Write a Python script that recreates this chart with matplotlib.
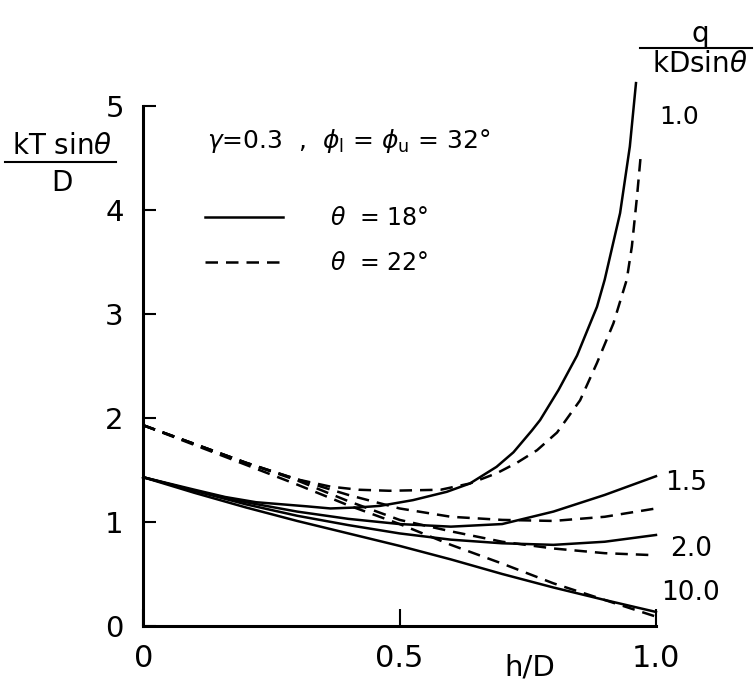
import matplotlib
matplotlib.use('Agg')
import matplotlib.pyplot as plt
from matplotlib.lines import Line2D

plt.rcParams['font.family'] = 'DejaVu Sans'
plt.rcParams['mathtext.fontset'] = 'dejavusans'

# theta = 18 deg (solid)
x18_q1 = [0, 0.1, 0.16, 0.22, 0.32, 0.365, 0.42, 0.462, 0.526, 0.592, 0.637, 0.689, 0.722, 0.758,
          0.774, 0.81, 0.846, 0.885, 0.90, 0.93, 0.949, 0.961]
y18_q1 = [1.43, 1.31, 1.24, 1.19, 1.15, 1.13, 1.14, 1.155, 1.21, 1.29, 1.37, 1.53, 1.67, 1.88,
          1.98, 2.27, 2.60, 3.07, 3.33, 3.97, 4.61, 5.22]
x18 = [0, 0.1, 0.2, 0.3, 0.4, 0.5, 0.6, 0.7, 0.8, 0.9, 1.0]
y18_q15 = [1.43, 1.30, 1.19, 1.10, 1.03, 0.98, 0.955, 0.98, 1.10, 1.26, 1.44]
y18_q2 = [1.43, 1.30, 1.17, 1.06, 0.97, 0.89, 0.83, 0.795, 0.78, 0.81, 0.875]
y18_q10 = [1.43, 1.28, 1.14, 1.01, 0.89, 0.77, 0.64, 0.50, 0.37, 0.25, 0.135]

# theta = 22 deg (dashed)
x22_q1 = [0, 0.1, 0.2, 0.3, 0.365, 0.42, 0.48, 0.58, 0.637, 0.69, 0.729, 0.768, 0.807, 0.852,
          0.885, 0.917, 0.943, 0.953, 0.963, 0.97]
y22_q1 = [1.93, 1.75, 1.57, 1.41, 1.34, 1.31, 1.30, 1.31, 1.37, 1.47, 1.57, 1.69, 1.86, 2.17,
          2.53, 2.91, 3.33, 3.65, 4.13, 4.51]
x22 = [0, 0.1, 0.2, 0.3, 0.4, 0.5, 0.6, 0.7, 0.8, 0.9, 1.0]
y22_q15 = [1.93, 1.75, 1.57, 1.41, 1.26, 1.13, 1.05, 1.02, 1.01, 1.05, 1.13]
y22_q2 = [1.93, 1.75, 1.57, 1.40, 1.20, 1.02, 0.91, 0.81, 0.745, 0.70, 0.68]
y22_q10 = [1.93, 1.74, 1.55, 1.36, 1.16, 0.98, 0.78, 0.60, 0.41, 0.25, 0.09]

q_labels = ['1.0', '1.5', '2.0', '10.0']
q_label_pos = [(1.046, 4.89), (1.058, 1.37), (1.068, 0.74), (1.068, 0.32)]
q_label_size = [18, 19, 19, 19]

fig = plt.figure(figsize=(7.54, 6.86), dpi=100)
ax = fig.add_axes([0.19, 0.0875, 0.68, 0.758])

lw = 1.8
dash = (5.0, 3.2)
style = dict(color='k', lw=lw, clip_on=False, solid_joinstyle='round', dash_joinstyle='round')
ax.plot(x18_q1, y18_q1, '-', label=r'$\theta$  = 18°', **style)
ax.plot(x18, y18_q15, '-', **style)
ax.plot(x18, y18_q2, '-', **style)
ax.plot(x18, y18_q10, '-', **style)
ax.plot(x22_q1, y22_q1, '--', dashes=dash, label=r'$\theta$  = 22°', **style)
ax.plot(x22, y22_q15, '--', dashes=dash, **style)
ax.plot(x22, y22_q2, '--', dashes=dash, **style)
ax.plot(x22, y22_q10, '--', dashes=dash, **style)

ax.set_xlim(0, 1.0)
ax.set_ylim(0, 5)
for s in ['top', 'right']:
    ax.spines[s].set_visible(False)
for s in ['left', 'bottom']:
    ax.spines[s].set_linewidth(2.2)

ax.set_xticks([0, 0.5, 1.0])
ax.set_xticklabels(['0', '0.5', '1.0'])
ax.set_yticks([0, 1, 2, 3, 4, 5])
ax.tick_params(axis='y', direction='in', length=9, width=1.5, labelsize=21, pad=14)
ax.tick_params(axis='x', direction='in', length=12, width=1.5, labelsize=22, pad=13)

for lab, (tx, ty), fs in zip(q_labels, q_label_pos, q_label_size):
    ax.text(tx, ty, lab, fontsize=fs, ha='center', va='center', clip_on=False)

ax.text(0.125, 4.66, r'$\gamma$=0.3  ,  $\phi_{\rm l}$ = $\phi_{\rm u}$ = 32°', fontsize=18, va='center')

ax.legend(loc='upper left', bbox_to_anchor=(0.121, 0.807), frameon=False, fontsize=17,
          handlelength=3.3, handletextpad=2.0, labelspacing=0.88, borderpad=0, borderaxespad=0)

# axis titles drawn as fractions
fig.text(62 / 754, 1 - 146 / 686, r'kT sin$\theta$', fontsize=20, ha='center', va='center')
fig.add_artist(Line2D([5 / 754, 116 / 754], [1 - 162 / 686] * 2, color='k', lw=1.5))
fig.text(62 / 754, 1 - 183 / 686, 'D', fontsize=20, ha='center', va='center')

fig.text(700 / 754, 1 - 34 / 686, 'q', fontsize=20, ha='center', va='center')
fig.add_artist(Line2D([640 / 754, 752 / 754], [1 - 48 / 686] * 2, color='k', lw=1.5))
fig.text(700 / 754, 1 - 64 / 686, r'kDsin$\theta$', fontsize=20, ha='center', va='center')

fig.text(530 / 754, 1 - 668 / 686, 'h/D', fontsize=21, ha='center', va='center')

fig.savefig('out.png', dpi=100)
